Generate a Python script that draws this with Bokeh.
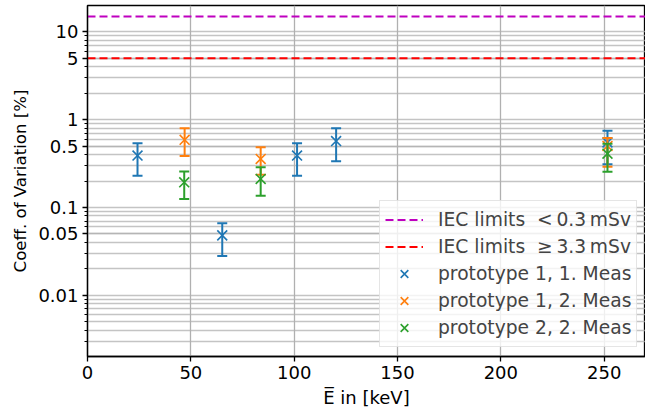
import numpy as np
from bokeh.plotting import figure
from bokeh.models import (FixedTicker, CustomJSTickFormatter, Legend, LegendItem,
                          Range1d, ColumnDataSource)
from bokeh.embed import file_html
from bokeh.resources import INLINE

# ---------------- data ----------------
p1m1_energy = [24.2, 65.2, 101.4, 120.3, 251.6]
p1m1_cv     = [0.39, 0.048, 0.39, 0.57, 0.55]
p1m1_lo     = [0.23, 0.028, 0.23, 0.335, 0.31]
p1m1_hi     = [0.54, 0.066, 0.54, 0.80, 0.75]

p1m2_energy = [47.0, 83.8, 251.6]
p1m2_cv     = [0.59, 0.357, 0.50]
p1m2_lo     = [0.386, 0.235, 0.29]
p1m2_hi     = [0.80, 0.484, 0.62]

p2m2_energy = [46.8, 83.8, 251.6]
p2m2_cv     = [0.193, 0.211, 0.41]
p2m2_lo     = [0.125, 0.136, 0.255]
p2m2_hi     = [0.257, 0.286, 0.53]

iec_limit_values = [15, 5]
iec_limit_labels = ["IEC limits \u00a0<\u20090.3\u2009mSv", "IEC limits \u00a0\u2265\u20093.3\u2009mSv"]
iec_limit_colors = ["#bf00bf", "#ff0000"]

series_labels = ["prototype 1, 1. Meas", "prototype 1, 2. Meas", "prototype 2, 2. Meas"]
series_colors = ["#1f77b4", "#ff7f0e", "#2ca02c"]

x_ticks = [0, 50, 100, 150, 200, 250]
y_ticks = [0.01, 0.05, 0.1, 0.5, 1, 5, 10]
x_min, x_max = 0, 270
y_min, y_max = 0.002, 20

FONT = "DejaVu Sans"

p = figure(frame_width=558, frame_height=351,
           x_range=Range1d(x_min, x_max), y_range=Range1d(y_min, y_max),
           y_axis_type="log", output_backend="svg", toolbar_location=None,
           min_border_left=87, min_border_right=0, min_border_top=5, min_border_bottom=60)

p.outline_line_color = "black"
p.outline_line_width = 1.3

# ticks
minor = []
for e in range(-3, 2):
    for k in range(2, 10):
        v = k * 10.0 ** e
        if y_min < v < y_max:
            minor.append(v)
p.yaxis.ticker = FixedTicker(ticks=y_ticks, minor_ticks=minor)
p.yaxis.formatter = CustomJSTickFormatter(code="return tick.toString();")
p.xaxis.ticker = FixedTicker(ticks=x_ticks, minor_ticks=[])

for ax in (p.xaxis, p.yaxis):
    ax.major_label_text_font = FONT
    ax.major_label_text_font_size = "18px"
    ax.major_label_text_color = "black"
    ax.axis_line_color = "black"
    ax.axis_line_width = 1.3
    ax.major_tick_line_color = "black"
    ax.major_tick_line_width = 1.3
    ax.major_tick_out = 5
    ax.major_tick_in = 0
    ax.minor_tick_line_color = "black"
    ax.minor_tick_line_width = 1
    ax.minor_tick_out = 3
    ax.minor_tick_in = 0
    ax.major_label_standoff = 4
    ax.axis_label_text_font = FONT
    ax.axis_label_text_font_size = "18px"
    ax.axis_label_text_font_style = "normal"
    ax.axis_label_text_color = "black"
p.xaxis.minor_tick_line_color = None

p.yaxis.axis_label = "Coeff. of Variation [%]"
p.yaxis.axis_label_text_font_size = "16.6px"
p.yaxis.axis_label_standoff = 5
p.xaxis.axis_label = "E\u0305 in [keV]"
p.xaxis.axis_label_standoff = 5

# grid
p.xgrid.grid_line_color = "#b0b0b0"
p.xgrid.grid_line_width = 1.3
p.ygrid.grid_line_color = "#b0b0b0"
p.ygrid.grid_line_width = 1.3
p.ygrid.grid_line_alpha = 0.75
p.ygrid.minor_grid_line_color = "#b0b0b0"
p.ygrid.minor_grid_line_width = 1.3
p.ygrid.minor_grid_line_alpha = 0.75

# IEC limits
limit_renderers = []
for val, col in zip(iec_limit_values, iec_limit_colors):
    r = p.line(x=[x_min, x_max], y=[val, val], line_color=col, line_width=2, line_dash="8 4")
    limit_renderers.append(r)

# series with error bars
series = [
    (p1m1_energy, p1m1_cv, p1m1_lo, p1m1_hi),
    (p1m2_energy, p1m2_cv, p1m2_lo, p1m2_hi),
    (p2m2_energy, p2m2_cv, p2m2_lo, p2m2_hi),
]
marker_renderers = []
for (ex, cv, lo, hi), col in zip(series, series_colors):
    src = ColumnDataSource(dict(x=ex, y=cv, lo=lo, hi=hi))
    p.segment(x0="x", y0="lo", x1="x", y1="hi", source=src, line_color=col, line_width=2)
    p.scatter(x="x", y="lo", source=src, marker="dash", size=10, line_color=col, line_width=2)
    p.scatter(x="x", y="hi", source=src, marker="dash", size=10, line_color=col, line_width=2)
    m = p.scatter(x="x", y="y", source=src, marker="x", size=14, line_color=col, line_width=1.6)
    marker_renderers.append(m)

items = [LegendItem(label=lab, renderers=[r]) for lab, r in zip(iec_limit_labels, limit_renderers)]
items += [LegendItem(label=lab, renderers=[r]) for lab, r in zip(series_labels, marker_renderers)]

legend = Legend(items=items, location=(292, 9))
legend.label_text_font = FONT
legend.label_text_font_size = "18.7px"
legend.label_standoff = 15
legend.glyph_width = 38
legend.glyph_height = 27
legend.label_height = 27
legend.spacing = 0
legend.padding = 5
legend.margin = 0
legend.border_line_color = "#cccccc"
legend.border_line_width = 1.3
legend.background_fill_alpha = 0.8
p.add_layout(legend)

open("out.html", "w").write(file_html(p, INLINE))
